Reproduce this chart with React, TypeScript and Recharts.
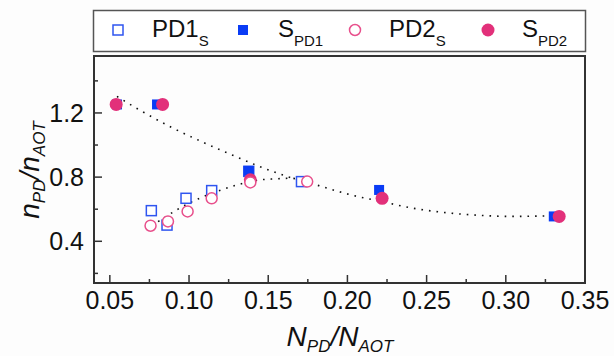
import React from 'react';
import { ComposedChart, Scatter, Line, XAxis, YAxis, ReferenceArea } from 'recharts';

// values
const pd1sX = [0.0762, 0.0861, 0.0981, 0.1143, 0.1377, 0.171];
const pd1sY = [0.591, 0.501, 0.668, 0.716, 0.836, 0.772];

const spd1X = [0.0545, 0.0798, 0.1377, 0.22, 0.3303];
const spd1Y = [1.253, 1.253, 0.839, 0.72, 0.555];

const pd2sX = [0.0757, 0.0867, 0.0991, 0.1143, 0.1387, 0.1746];
const pd2sY = [0.497, 0.524, 0.586, 0.668, 0.767, 0.772];

const spd2X = [0.054, 0.0833, 0.1387, 0.2219, 0.3337];
const spd2Y = [1.253, 1.253, 0.783, 0.668, 0.555];

// dotted guide curves
const fallX = [0.0545, 0.0692, 0.0888, 0.1082, 0.1282, 0.1474, 0.1623, 0.1819, 0.2015, 0.2209, 0.2409, 0.2605, 0.2798, 0.3044, 0.3293];
const fallY = [1.303, 1.216, 1.111, 1.02, 0.934, 0.855, 0.803, 0.747, 0.691, 0.649, 0.607, 0.58, 0.564, 0.555, 0.559];
const riseX = [0.0762, 0.0814, 0.0914, 0.1057, 0.1204, 0.1303, 0.145, 0.1545, 0.164, 0.1724];
const riseY = [0.501, 0.528, 0.591, 0.664, 0.72, 0.751, 0.783, 0.789, 0.793, 0.778];

const xMajorTicks = [0.05, 0.1, 0.15, 0.2, 0.25, 0.3, 0.35];
const xMinorTicks = [0.075, 0.125, 0.175, 0.225, 0.275, 0.325];
const yMajorTicks = [0.4, 0.8, 1.2];
const yMinorTicks = [0.2, 0.6, 1.0, 1.4];

const zip = (xs: number[], ys: number[]) => xs.map((x, i) => ({ x, y: ys[i] }));

const FONT = '"Liberation Sans", Arial, sans-serif';
const AXIS = '#333';
const BLUE = '#0a3cf5';
const BLUE_OPEN = '#2f55f0';
const PINK = '#e2307a';
const PINK_OPEN = '#e8508c';

const isIn = (list: number[], v: number) => list.some(t => Math.abs(t - v) < 1e-9);

const XTick = (props: any) => {
  const { x, y, payload } = props;
  const major = isIn(xMajorTicks, payload.value);
  return (
    <g>
      <line x1={x} x2={x} y1={y} y2={y - (major ? 8 : 4)} stroke={AXIS} strokeWidth={1.5} />
      {major && (
        <text x={x} y={y + 26} textAnchor="middle" fontSize={25} fontFamily={FONT} fill="#111">
          {payload.value.toFixed(2)}
        </text>
      )}
    </g>
  );
};

const YTick = (props: any) => {
  const { x, y, payload } = props;
  const major = isIn(yMajorTicks, payload.value);
  return (
    <g>
      <line x1={x} x2={x + (major ? 8 : 4)} y1={y} y2={y} stroke={AXIS} strokeWidth={1.5} />
      {major && (
        <text x={x - 10} y={y + 9} textAnchor="end" fontSize={25} fontFamily={FONT} fill="#111">
          {payload.value.toFixed(1)}
        </text>
      )}
    </g>
  );
};

const XTitle = () => (
  <text x={340} y={346} textAnchor="middle" fontSize={28} fontStyle="italic" fontFamily={FONT} fill="#111">
    N<tspan fontSize={17} dy={6}>PD</tspan>
    <tspan dy={-6}>/N</tspan>
    <tspan fontSize={17} dy={6}>AOT</tspan>
  </text>
);

const YTitle = () => (
  <text x={39} y={170} transform="rotate(-90 39 170)" textAnchor="middle" fontSize={28} fontStyle="italic" fontFamily={FONT} fill="#111">
    n<tspan fontSize={17} dy={6}>PD</tspan>
    <tspan dy={-6}>/n</tspan>
    <tspan fontSize={17} dy={6}>AOT</tspan>
  </text>
);

const OpenSquare = (p: any) => (
  <rect x={p.cx - 5} y={p.cy - 5} width={10} height={10} fill="#fff" stroke={BLUE_OPEN} strokeWidth={1.5} />
);
const FilledSquare = (p: any) => <rect x={p.cx - 5} y={p.cy - 5} width={10} height={10} fill={BLUE} />;
const OpenCircle = (p: any) => <circle cx={p.cx} cy={p.cy} r={5.5} fill="#fff" stroke={PINK_OPEN} strokeWidth={1.5} />;
const FilledCircle = (p: any) => <circle cx={p.cx} cy={p.cy} r={6.5} fill={PINK} />;

const legendItems = [
  { icon: 'os', iconX: 118, textX: 152, main: 'PD1', sub: 'S' },
  { icon: 'fs', iconX: 243, textX: 278, main: 'S', sub: 'PD1' },
  { icon: 'oc', iconX: 355, textX: 389, main: 'PD2', sub: 'S' },
  { icon: 'fc', iconX: 488, textX: 522, main: 'S', sub: 'PD2' },
];

const LegendBox = () => (
  <svg width={614} height={56} style={{ position: 'absolute', left: 0, top: 0 }}>
    <rect x={93.5} y={10.5} width={492} height={41} fill="#fff" stroke="#555" strokeWidth={1.5} />
    {legendItems.map(it => (
      <g key={it.main + it.sub}>
        {it.icon === 'os' && <OpenSquare cx={it.iconX} cy={30} />}
        {it.icon === 'fs' && <FilledSquare cx={it.iconX} cy={30} />}
        {it.icon === 'oc' && <OpenCircle cx={it.iconX} cy={30} />}
        {it.icon === 'fc' && <FilledCircle cx={it.iconX} cy={30} />}
        <text x={it.textX} y={37} fontSize={24} fontFamily={FONT} fill="#111">
          {it.main}
          <tspan fontSize={15} dy={9}>{it.sub}</tspan>
        </text>
      </g>
    ))}
  </svg>
);

const App: React.FC = () => {
  return (
    <div style={{ position: 'fixed', left: 0, top: 0, width: 614, height: 356, background: '#fdfdfd' }}>
      <ComposedChart width={614} height={356} margin={{ top: 56, right: 29, bottom: 0, left: 0 }}>
        <XAxis
          dataKey="x"
          type="number"
          domain={[0.04, 0.35]}
          allowDataOverflow
          ticks={[...xMajorTicks, ...xMinorTicks].sort((a, b) => a - b)}
          interval={0}
          tickSize={0}
          tickMargin={0}
          tickLine={false}
          tick={<XTick />}
          height={73}
          axisLine={{ stroke: AXIS, strokeWidth: 1.5 }}
          label={<XTitle />}
        />
        <YAxis
          dataKey="y"
          type="number"
          domain={[0.14, 1.555]}
          allowDataOverflow
          ticks={[...yMajorTicks, ...yMinorTicks].sort((a, b) => a - b)}
          interval={0}
          tickSize={0}
          tickMargin={0}
          tickLine={false}
          tick={<YTick />}
          width={94}
          axisLine={{ stroke: AXIS, strokeWidth: 1.5 }}
          label={<YTitle />}
        />
        <ReferenceArea x1={0.04} x2={0.35} y1={0.14} y2={1.555} fill="none" stroke={AXIS} strokeWidth={2} />
        <Scatter data={zip(pd1sX, pd1sY)} shape={OpenSquare} isAnimationActive={false} />
        <Scatter data={zip(spd1X, spd1Y)} shape={FilledSquare} isAnimationActive={false} />
        <Scatter data={zip(spd2X, spd2Y)} shape={FilledCircle} isAnimationActive={false} />
        <Scatter data={zip(pd2sX, pd2sY)} shape={OpenCircle} isAnimationActive={false} />
        <Line data={zip(fallX, fallY)} dataKey="y" type="monotone" dot={false} stroke="#111" strokeWidth={1.6} strokeDasharray="1.6 6" isAnimationActive={false} />
        <Line data={zip(riseX, riseY)} dataKey="y" type="monotone" dot={false} stroke="#111" strokeWidth={1.6} strokeDasharray="1.6 6" isAnimationActive={false} />
      </ComposedChart>
      <LegendBox />
    </div>
  );
};

export default App;
